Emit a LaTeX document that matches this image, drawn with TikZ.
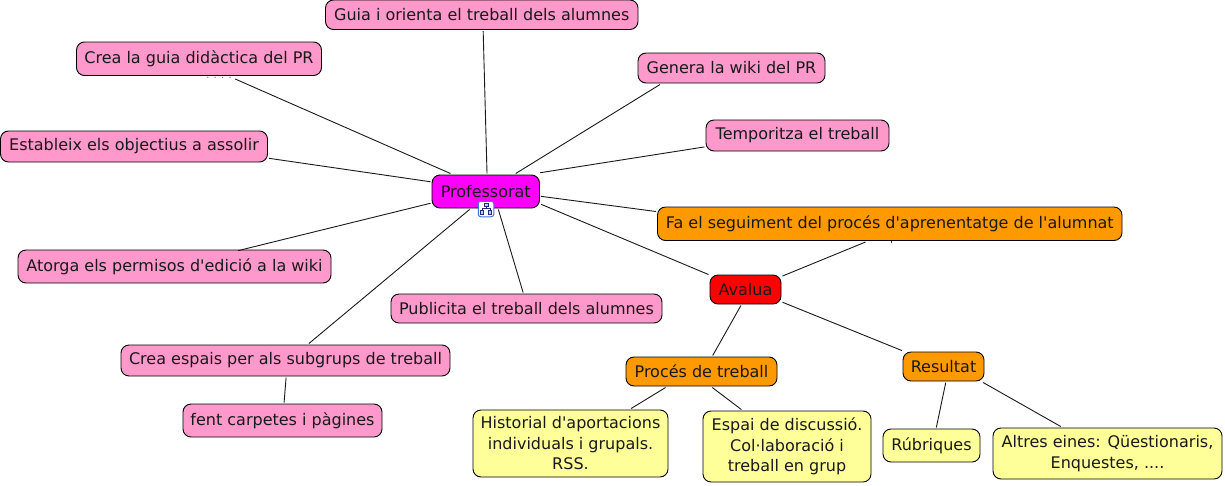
\documentclass[tikz,border=0pt]{standalone}
\usepackage{fontspec}
\newfontfamily\mainf{DejaVu Sans}
\definecolor{pinkc}{HTML}{FF99CC}
\definecolor{magc}{HTML}{FF00FF}
\definecolor{orc}{HTML}{FF9900}
\definecolor{redc}{HTML}{FF0000}
\definecolor{yelc}{HTML}{FFFF99}
\definecolor{iconb}{HTML}{3F74DC}
\definecolor{icond}{HTML}{1F2F70}
\tikzset{
  box/.style={draw=black,line width=0.9pt,rounded corners=8pt,inner sep=0pt,outer sep=1.5pt,align=center,
     font=\mainf\fontsize{16}{20.5}\selectfont,text=black!90},
  pinkbox/.style={box,fill=pinkc},
  magbox/.style={box,fill=magc},
  orbox/.style={box,fill=orc},
  redbox/.style={box,fill=redc},
  yelbox/.style={box,fill=yelc},
  link/.style={draw=black!90,line width=0.9pt},
  sz/.style n args={2}{minimum width=#1pt,minimum height=#2pt}
}
\begin{document}
\begin{tikzpicture}[x=1pt,y=-1pt]
\useasboundingbox (0,0) rectangle (1225,485);
\node[pinkbox,sz={312.5}{29.5}] (guia) at (481.75,14.75) {Guia i orienta el treball dels alumnes};
\node[pinkbox,sz={245}{33.5}] (creag) at (199,58.75) {Crea la guia didàctica del PR};
\node[pinkbox,sz={187}{30}] (genera) at (731.5,68) {Genera la wiki del PR};
\node[pinkbox,sz={183}{31}] (temp) at (797.5,135.5) {Temporitza el treball};
\node[pinkbox,sz={267}{31}] (estab) at (134,146.5) {Estableix els objectius a assolir};
\node[magbox,sz={107.5}{33}] (prof) at (485.75,191.5) {Professorat};
\node[orbox,sz={464.5}{33.5}] (fa) at (889.75,223.75) {Fa el seguiment del procés d'aprenentatge de l'alumnat};
\node[pinkbox,sz={313}{33}] (atorga) at (174.5,266.5) {Atorga els permisos d'edició a la wiki};
\node[pinkbox,sz={271}{29}] (publi) at (526.5,308.5) {Publicita el treball dels alumnes};
\node[redbox,sz={71}{29}] (avalua) at (745.5,289.5) {Avalua};
\node[pinkbox,sz={329}{31}] (espais) at (285.5,360.5) {Crea espais per als subgrups de treball};
\node[pinkbox,sz={199}{33}] (fent) at (282.5,420.5) {fent carpetes i pàgines};
\node[orbox,sz={151}{29}] (proces) at (701.5,371.5) {Procés de treball};
\node[orbox,sz={81}{29}] (result) at (943.5,366.5) {Resultat};
\node[yelbox,sz={195}{67}] (hist) at (570.5,443.5) {Historial d'aportacions\\individuals i grupals.\\RSS.};
\node[yelbox,sz={168}{71}] (espai) at (787,446.5) {Espai de discussió.\\Col·laboració i\\treball en grup};
\node[yelbox,sz={97}{33}] (rub) at (931.5,445.5) {Rúbriques};
\node[yelbox,sz={229}{51}] (altres) at (1107.5,453.5) {Altres eines: Qüestionaris,\\Enquestes, ....};

\draw[link] (prof.86) -- (guia.-85.3);
\draw[link,shorten >=5pt] (prof.153.3) -- (creag.-30.4);
\draw[link] (prof.31.8) -- (genera.-167.6);
\draw[link,shorten <=5pt] (prof.20.4) -- (temp.-173.4);
\draw[link] (prof.170) -- (estab.-5.3);
\draw[link] (prof.-5.5) -- (fa.177.1);
\draw[link] (prof.-13) -- (avalua.158.9);
\draw[link,shorten >=-9pt] (prof.-168) -- (atorga.14.6);
\draw[link] (prof.-55) -- (publi.102);
\draw[link] (prof.-132) -- (espais.36);
\draw[link] (fa.-143.2) -- (avalua.20.2);
\draw[link] (avalua.-106.2) -- (proces.55.9);
\draw[link] (avalua.-19.9) -- (result.159.5);
\draw[link] (proces.-156.8) -- (hist.30.8);
\draw[link] (proces.-56.7) -- (espai.141);
\draw[link] (result.-82) -- (rub.75.6);
\draw[link] (result.-22) -- (altres.150.4);
\draw[link] (espais.-88) -- (fent.85);

\node[font=\mainf\fontsize{10}{10}\selectfont,text=black!55,inner sep=0pt] (dots) at (219,77.5) {. . . .};
\coordinate (ticka) at (891.5,240.5);
\coordinate (tickb) at (891.5,242.5);
\draw[black!80,line width=0.7pt] (ticka) -- (tickb);

\node[draw=iconb,fill=white,line width=1pt,rounded corners=2.5pt,minimum size=15.5pt,inner sep=0pt] (icon) at (486,209) {};
\draw[icond,line width=0.7pt] (486,206) -- (486,208.2) (482,208.2) -- (490,208.2) (482,208.2) -- (482,210.5) (490,208.2) -- (490,210.5);
\draw[icond,fill=iconb!35,line width=0.7pt] (484,203) rectangle (488,206) (480.3,210.5) rectangle (483.7,214.3) (488.3,210.5) rectangle (491.7,214.3);
\end{tikzpicture}
\end{document}
